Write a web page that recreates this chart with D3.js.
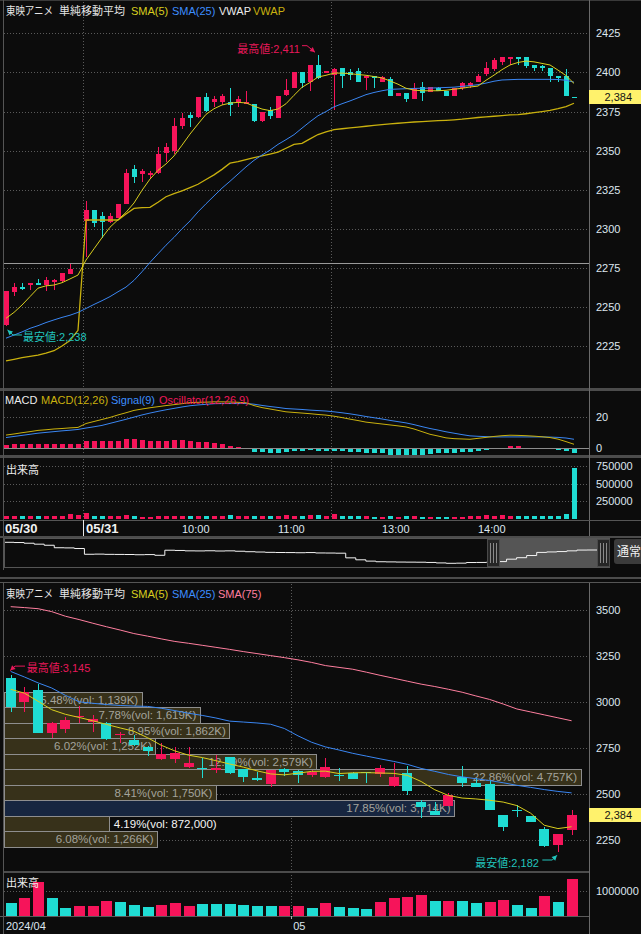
<!DOCTYPE html>
<html><head><meta charset="utf-8">
<script src="https://cdn.jsdelivr.net/npm/d3@7"></script>
<style>
html,body{margin:0;padding:0;background:#0c0c0c;}
svg{display:block;}
text{font-family:"Liberation Sans","Noto Sans CJK JP",sans-serif;}
</style></head><body>
<svg id="c" width="641" height="934"></svg>
<script>
// ---------- intraday 5-minute bars (05/30 close .. 05/31) ----------
const intradayTickLabels = ["05/30","05/31","10:00","11:00","13:00","14:00"];
const intradayTickIndex  = [0,10,22,34,47,59];
const prevClose = 2278;

const iOpen = [2238,2260,2263,2264,2265,2264,2266,2267,2271,2278, 2305,2312,2308,2304,2307,2316,2338,2335,2335,2336,
  2348,2350,2366,2373,2371,2384,2381,2381,2381,2381, 2380,2380,2369,2376,2371,2386,2390,2400,2394,2405,
  2400,2398,2403,2400,2401,2397,2398,2394,2396,2385, 2387,2383,2391,2388,2390,2388,2385,2390,2391,2394,
  2399,2402,2407,2409,2410,2410,2405,2404,2403,2398, 2398,2384];
const iHigh = [2260,2265,2265,2265,2268,2269,2268,2272,2278,2278, 2318,2312,2311,2310,2316,2338,2341,2338,2337,2352,
  2355,2371,2374,2375,2384,2387,2385,2386,2390,2385, 2388,2380,2375,2378,2385,2396,2400,2400,2405,2411,
  2401,2403,2403,2402,2403,2398,2398,2398,2397,2387, 2387,2393,2394,2391,2391,2388,2390,2394,2394,2399,
  2407,2409,2410,2410,2410,2410,2405,2405,2403,2398, 2402,2384];
const iLow = [2238,2257,2261,2261,2264,2260,2261,2265,2271,2278, 2282,2301,2294,2304,2307,2316,2329,2330,2332,2335,
  2343,2348,2364,2365,2371,2375,2378,2379,2372,2378, 2380,2368,2368,2370,2371,2385,2390,2390,2388,2396,
  2400,2376,2390,2395,2394,2389,2390,2394,2385,2385, 2381,2383,2382,2388,2388,2385,2385,2389,2390,2394,
  2398,2401,2405,2405,2405,2403,2401,2401,2394,2394, 2385,2384];
const iClose = [2260,2263,2262,2265,2264,2267,2267,2272,2274,2278, 2312,2304,2304,2308,2316,2336,2333,2337,2336,2348,
  2352,2366,2371,2371,2384,2375,2383,2385,2379,2383, 2381,2369,2375,2372,2385,2389,2400,2393,2405,2397,
  2401,2402,2398,2398,2394,2398,2397,2397,2385,2387, 2383,2390,2387,2391,2388,2385,2390,2393,2393,2398,
  2403,2408,2410,2410,2409,2404,2403,2403,2398,2397, 2385,2384];
const iVolume = [36000,36000,31000,36000,31000,36000,31000,36000,64000,50000, 78000,36000,36000,31000,36000,50000,36000,26000,26000,36000,
  36000,31000,31000,36000,36000,31000,36000,36000,50000,36000, 31000,31000,36000,36000,31000,50000,31000,36000,50000,50000,
  36000,64000,36000,36000,36000,36000,26000,26000,31000,26000, 31000,31000,26000,26000,21000,26000,26000,26000,31000,40000,
  50000,36000,50000,31000,31000,36000,36000,31000,31000,36000, 64000,725000];
const iSma5 = [2242.7,2246.5,2251.2,2256.6,2262,2263.5,2264,2265.5,2267.9,2270.4,
  2280,2287.2,2294.3,2301,2305.8,2310.5,2316.5,2324.6,2331.8,2337.4,
  2341.5,2346.6,2353.5,2360.6,2367,2373.2,2376.8,2379.2,2380.4,2380.9,
  2380.5,2378.5,2376.6,2375.6,2376.6,2380,2385.4,2390.5,2393.6,2397.1,
  2398.2,2399.6,2399.6,2399.2,2398.7,2398.2,2397.4,2396.5,2394.6,2392.5,
  2389.9,2388.7,2388.3,2388.3,2388.3,2388.6,2389.3,2389.9,2390.7,2391.3,
  2395,2398.3,2401.8,2404.8,2406.4,2407.3,2406.8,2405.8,2404.8,2401.5,
  2398,2393];
const iSma25 = [2230,2232,2234,2236.3,2238,2240,2241.7,2243.3,2244.7,2246.5,
  2249,2251.6,2254,2256.6,2259.7,2262.7,2267,2272.5,2278.5,2284,
  2289.5,2294.5,2300,2305,2310.8,2316,2321,2326,2330.4,2335,
  2339.6,2343.8,2347.2,2350.3,2354,2357,2360.2,2364.4,2368.5,2372.3,
  2375,2378,2380,2381.8,2383.8,2385.8,2387.2,2388.3,2389.2,2389.4,
  2389.6,2389.8,2389.9,2390,2390.2,2390.4,2390.6,2391.1,2391.6,2392.2,
  2393.2,2394.4,2395.2,2395.4,2395.6,2395.6,2395.6,2395.6,2395.6,2395.5,
  2395,2393.8];
const iVwap = [2215.5,2216.5,2217.5,2218.3,2219.2,2220.5,2222,2225,2228.5,2235,
  2305.6,2305.6,2305.6,2305.6,2305.6,2309.5,2313,2313.5,2313.7,2317,
  2320.5,2322.5,2324.2,2326.3,2328.5,2331.5,2334.5,2338,2342,2343,
  2344.3,2345.5,2346.7,2347.8,2349,2351.5,2354,2354.7,2357.5,2360.3,
  2362,2363.4,2364,2364.5,2365,2365.6,2366.2,2366.7,2367.1,2367.5,
  2367.9,2368.3,2368.6,2368.9,2369.2,2369.4,2369.7,2370.1,2370.7,2371.2,
  2371.6,2372,2372.4,2372.9,2373,2373.6,2374.3,2375,2375.8,2376.9,
  2378.2,2380.3];
const macdLine = [8.1,8.8,9.6,10.3,11.1,11.5,12,12.3,12.7,13,
  15.5,16.8,18.1,19.4,21,22.4,23.9,24.8,25.6,26.3,
  27,27.6,28.2,28.9,29.1,29.2,29.4,29.4,29.3,29.1,
  28.8,27,25.7,24.8,23.9,23,22.6,22.2,21.8,21.3,
  20.9,20.2,19.3,18.3,17.4,16.4,15.8,15.2,14.6,14,
  13.3,12,10.3,8.6,7.5,6.3,5.8,5.6,5.4,6,
  6.6,7.2,7.7,8,7.9,7.7,7.4,7,6.5,5.5,
  3.9,2.2];
const macdSignal = [6.5,7.2,7.9,8.6,9.3,9.8,10.3,10.8,11.2,11.7,
  12.6,13.4,14.3,15.6,16.9,18.2,19.6,21,22.2,23.3,
  24.3,25.2,26.1,26.9,27.4,27.8,28.2,28.3,28.3,28.3,
  28.3,27.9,27.1,26.4,25.8,25.1,24.8,24.5,24.1,23.8,
  23.5,23,22.4,21.7,20.9,20,19.2,18.4,17.5,16.7,
  15.9,14.8,13.5,12.3,11.3,10.2,9.3,8.4,7.6,7.3,
  7.1,6.9,6.9,6.9,6.9,6.9,6.9,6.9,6.8,6.6,
  6.2,5.4];
const macdHist = [1.7,2.5,2.5,2.5,2.2,2.2,2.2,2.2,2.2,2.2,
  4.3,4.3,4.3,4.3,4.3,5.6,5.6,5,4.3,4.3,
  4.3,5,5,4.3,3.8,3.4,2.7,2.1,1,0.4,
  -0.5,-2.6,-2.6,-3.6,-3.6,-2.6,-2.1,-2.1,-1.7,-1.9,
  -2.1,-2.1,-2.1,-2.6,-2.6,-3.6,-3.6,-3.6,-4.7,-4.7,
  -4.7,-4.7,-4.7,-4.3,-3.6,-3.6,-3.2,-2.6,-2.6,-2.1,
  -1.5,-0.4,-0.3,1,1,0,-0.4,-0.8,-1,-1.2,
  -2.1,-3.2];
// overview line in the range navigator
const navPrice = [2500,2497,2488,2476,2462,2430,2428,2420,2346,2348,
  2345,2344,2343,2340,2342,2333,2398,2395,2390,2389,
  2391,2388,2390,2385,2379,2375,2371,2369,2368,2366,
  2368,2363,2362,2360,2300,2275,2258,2250,2248,2246,
  2245,2244,2241,2235,2230,2232,2240,2241,2244,2252,
  2283,2302,2330,2370,2376,2381,2390,2400,2401,2400];

const priceTicks = [2225,2250,2275,2300,2325,2350,2375,2400,2425];
const macdTicks = [0,20];
const volTicks = [250000,500000,750000];

// ---------- daily bars (2024/04 .. 05) ----------
const dailyTickLabels = ["2024/04","05"];
const dailyTickIndex = [0,21];
const dOpen = [3130,3000,3065,2832,2850,2920,2886,2886,2820,2792, 2756,2690,2689,2648,2640,2628,2698,2633,2584,2552,
  2634,2626,2603,2594,2604,2611,2616,2606,2544,2611, 2457,2408,2435,2593,2560,2553,2385,2414,2380,2307, 2218,2303];
const dHigh = [3145,3080,3097,2890,2919,2977,2928,2890,2837,2820, 2760,2774,2756,2756,2693,2711,2700,2635,2620,2632,
  2640,2628,2630,2693,2639,2620,2620,2657,2666,2651, 2466,2457,2503,2651,2584,2575,2387,2439,2382,2318, 2282,2412];
const dLow = [2945,2946,2830,2802,2829,2886,2838,2795,2774,2762, 2705,2686,2666,2639,2584,2611,2610,2566,2570,2535,
  2597,2560,2590,2584,2571,2578,2557,2593,2535,2493, 2367,2383,2433,2539,2538,2410,2300,2375,2345,2210, 2182,2276];
const dClose = [2975,3055,2832,2886,2900,2922,2905,2798,2823,2765, 2734,2718,2720,2669,2638,2639,2611,2590,2572,2630,
  2620,2603,2620,2647,2602,2580,2614,2639,2593,2511, 2430,2385,2493,2560,2540,2412,2318,2411,2348,2213, 2280,2384];
const dVolume = [526000,729000,1377000,729000,324000,405000,405000,595000,540000,445000,
  364000,445000,513000,405000,486000,486000,486000,445000,405000,405000,
  405000,405000,324000,526000,364000,324000,283000,567000,729000,769000,
  850000,595000,595000,595000,526000,554000,636000,445000,324000,810000,
  554000,1486000];
const dVolumeSide = ["d","u","u","d","d","u","u","u","d","d", "d","u","u","u","d","d","d","d","d","d",
  "u","u","d","u","d","d","d","u","u","u", "u","d","u","d","d","u","u","d","d","u", "d","u"];
const dSma5 = [3068,3047,3003,2957,2932,2915,2897,2877,2858,2840, 2805,2764,2733,2710,2697,2680,2662,2645,2625,2608,
  2603,2612,2622,2623,2610,2614,2615,2613,2611,2600, 2567,2522,2491,2477,2472,2465,2455,2436,2395,2329, 2311,2321];
const dSma25 = [3165,3135,3103,3075,3035,3000,2992,2985,2980,2977, 2975,2965,2952,2938,2926,2912,2895,2890,2885,2878,
  2855,2815,2780,2755,2738,2720,2705,2690,2676,2660, 2638,2622,2605,2592,2582,2572,2560,2546,2535,2523, 2513,2505];
const dSma75 = [3517,3512,3506,3490,3465,3447,3427,3408,3390,3371, 3357,3342,3328,3318,3307,3296,3285,3273,3262,3251,
  3240,3228,3214,3197,3187,3177,3161,3144,3128,3112, 3096,3083,3068,3052,3032,3013,2988,2961,2945,2929, 2913,2897];
// volume by price, lowest band first
const profileShare = [6.08,4.19,17.85,8.41,22.86,12.39,6.02,8.95,7.78,5.48];
const profileVolume = [1266000,872000,3714000,1750000,4757000,2579000,1252000,1862000,1619000,1139000];

const dPriceTicks = [2250,2500,2750,3000,3250,3500];
const dVolTicks = [1000000];

// ---------- styling ----------
const RED = "#f6145a", CYAN = "#1fdcd3";
const AX = "#dde6ef", GRID = "#5a5a5a", SEP = "#4c4c4c";
const C_SMA5 = "#d9ce1e", C_SMA25 = "#3a86f2", C_VWAP = "#c9b10e", C_SMA75 = "#ff7f9f";
const fmt = d3.format(",");

const svg = d3.select("#c");
svg.append("rect").attr("width",641).attr("height",934).attr("fill","#0c0c0c");

function hl(x0,x1,y,color,dash,w){
  return svg.append("line").attr("x1",x0).attr("x2",x1).attr("y1",Math.round(y)+0.5).attr("y2",Math.round(y)+0.5)
    .attr("stroke",color).attr("stroke-width",w||1).attr("stroke-dasharray",dash||null).attr("shape-rendering","crispEdges");
}
function vl(x,y0,y1,color,dash,w){
  return svg.append("line").attr("x1",Math.round(x)+0.5).attr("x2",Math.round(x)+0.5).attr("y1",y0).attr("y2",y1)
    .attr("stroke",color).attr("stroke-width",w||1).attr("stroke-dasharray",dash||null).attr("shape-rendering","crispEdges");
}
function txt(x,y,s,fill,size,anchor,weight){
  return svg.append("text").attr("x",x).attr("y",y).text(s).attr("fill",fill||AX).attr("font-size",size||11)
    .attr("text-anchor",anchor||"start").attr("font-weight",weight||null);
}
function header(y,parts){
  parts.forEach(p=>{
    const t = txt(p[2],y,p[0],p[1],11);
    if(p[3]) t.attr("textLength",p[3]).attr("lengthAdjust","spacingAndGlyphs");
  });
}
function sideOf(o,c,prev){ if(c>o) return "u"; if(c<o) return "d"; return (prev!==undefined && c<prev) ? "d" : "u"; }
function candles(xs,ys,O,Hh,L,C,bw,clipId){
  const g = svg.append("g").attr("clip-path",`url(#${clipId})`);
  O.forEach((o,i)=>{
    const col = sideOf(o,C[i],C[i-1])==="u" ? RED : CYAN;
    const xc = Math.round(xs(i));
    g.append("line").attr("x1",xc+0.5).attr("x2",xc+0.5).attr("y1",ys(Hh[i])).attr("y2",ys(L[i]))
      .attr("stroke",col).attr("stroke-width",1).attr("shape-rendering","crispEdges");
    const yt = ys(Math.max(o,C[i])), yb = ys(Math.min(o,C[i]));
    g.append("rect").attr("x",xc-Math.floor(bw/2)).attr("width",bw)
      .attr("y",Math.round(yt)).attr("height",Math.max(1,Math.round(yb-yt)))
      .attr("fill",col).attr("shape-rendering","crispEdges");
  });
}
function series(xs,ys,vals,color,w,clipId){
  svg.append("path").datum(vals).attr("clip-path",`url(#${clipId})`)
    .attr("d",d3.line().x((d,i)=>xs(i)).y(d=>ys(d)))
    .attr("fill","none").attr("stroke",color).attr("stroke-width",w||1);
}
function arrow(pts,color){
  svg.append("path").attr("d",d3.line()(pts)).attr("fill","none").attr("stroke",color).attr("stroke-width",1);
  const a = pts[pts.length-2], b = pts[pts.length-1];
  const ang = Math.atan2(b[1]-a[1], b[0]-a[0]);
  const s = 5, w = 2.6;
  const p1 = [b[0]-s*Math.cos(ang)+w*Math.sin(ang), b[1]-s*Math.sin(ang)-w*Math.cos(ang)];
  const p2 = [b[0]-s*Math.cos(ang)-w*Math.sin(ang), b[1]-s*Math.sin(ang)+w*Math.cos(ang)];
  svg.append("path").attr("d",d3.line()([b,p1,p2,b])).attr("fill",color);
}
function priceBox(y,value){
  svg.append("rect").attr("x",589).attr("y",Math.round(y)-7).attr("width",52).attr("height",14).attr("fill","#fff26c");
  txt(632,y+4,fmt(value),"#141414",11,"end");
}
const defs = svg.append("defs");
function clip(id,x,y,w,h){ defs.append("clipPath").attr("id",id).append("rect").attr("x",x).attr("y",y).attr("width",w).attr("height",h); }

// ================= intraday chart =================
const xI = d3.scaleLinear().domain([0,71]).range([6,574]);
const yP = d3.scaleLinear().domain([2225,2425]).range([346,33.4]);
const yM = d3.scaleLinear().domain([0,20]).range([447.7,416.5]);
const yV = d3.scaleLinear().domain([0,750000]).range([518.5,466]);
clip("cTop",4,2,585,386); clip("cMacd",4,392,585,63); clip("cVol",4,459,585,61);

hl(0,641,0,"#3a3a3a");
priceTicks.forEach(v=>hl(4,589,yP(v),GRID,"1 2"));
const dayEdge = xI(10)-3, lunchEdge = xI(41)-3;
[dayEdge,lunchEdge].forEach(x=>{ vl(x,2,388,GRID,"1 2"); vl(x,392,455,GRID,"1 2"); vl(x,459,519,GRID,"1 2"); });

candles(xI,yP,iOpen,iHigh,iLow,iClose,5,"cTop");
hl(4,589,yP(prevClose),"#9a9a9a");
series(xI,yP,iVwap,C_VWAP,1.3,"cTop");
series(xI,yP,iSma25,C_SMA25,1,"cTop");
series(xI,yP,iSma5,C_SMA5,1,"cTop");

// high / low markers
{
  const hi = d3.max(iHigh), hiI = iHigh.indexOf(hi);
  const hx = xI(hiI), hy = yP(hi);
  arrow([[hx-16,hy-9.6],[hx-11,hy-9.6],[hx-3,hy-3]],"#e8185a");
  txt(hx-18,hy-2,"最高値:"+fmt(hi),"#e8185a",11,"end");
  const lo = d3.min(iLow), loI = iLow.indexOf(lo);
  const lx = xI(loI), ly = yP(lo);
  arrow([[lx+16,ly+9.3],[lx+7,ly+9.3],[lx+1.5,ly+4.3]],"#22c4bd");
  txt(lx+17,ly+15,"最安値:"+fmt(lo),"#22c4bd",11,"start");
}
header(15,[["東映アニメ","#e6e6e6",6,47],["単純移動平均","#e6e6e6",59],["SMA(5)",C_SMA5,131],["SMA(25)","#3d8eff",172],["VWAP","#ececec",219],["VWAP",C_VWAP,253]]);

// panel separators and frame
svg.append("rect").attr("x",0).attr("y",388).attr("width",641).attr("height",3).attr("fill",SEP);
svg.append("rect").attr("x",0).attr("y",455).attr("width",641).attr("height",3).attr("fill",SEP);
vl(3,0,570,"#555");
vl(589,0,537,"#6a6a6a");

// price axis
priceTicks.forEach(v=>txt(596,yP(v)+4,v));
priceBox(yP(iClose[iClose.length-1]),iClose[iClose.length-1]);

// MACD panel
hl(4,589,yM(20),GRID,"1 2");
macdHist.forEach((v,i)=>{
  const y0 = yM(0), y1 = yM(v);
  svg.append("rect").attr("x",Math.round(xI(i))-2).attr("width",5)
    .attr("y",Math.min(y0,y1)).attr("height",Math.max(0.8,Math.abs(y1-y0)))
    .attr("fill",v>=0?RED:CYAN).attr("shape-rendering","crispEdges");
});
hl(4,589,yM(0),"#8c8c8c");
series(xI,yM,macdSignal,C_SMA25,1,"cMacd");
series(xI,yM,macdLine,C_VWAP,1,"cMacd");
header(404,[["MACD","#ececec",5],["MACD(12,26)",C_VWAP,41],["Signal(9)","#3d8eff",111],["Oscillator(12,26,9)","#f0185a",159]]);
macdTicks.forEach(v=>txt(596,yM(v)+4,v));

// intraday volume
volTicks.forEach(v=>hl(4,589,yV(v),GRID,"1 2"));
iVolume.forEach((v,i)=>{
  const col = sideOf(iOpen[i],iClose[i],iClose[i-1])==="u" ? RED : CYAN;
  svg.append("rect").attr("x",Math.round(xI(i))-2).attr("width",5)
    .attr("y",yV(v)).attr("height",yV(0)-yV(v)).attr("fill",col).attr("shape-rendering","crispEdges");
});
txt(6,474,"出来高","#ececec",11);
volTicks.forEach(v=>txt(596,yV(v)+4,v));

// time axis strip
hl(0,641,520,"#555");
vl(dayEdge,520,536,"#e8e8e8");
intradayTickLabels.forEach((s,k)=>{
  const bold = s.indexOf("/")>0;
  txt(xI(intradayTickIndex[k]) - (k===0?1:0),533,s,bold?"#f2f2f2":AX,bold?13:11,"start",bold?"bold":null);
});
svg.append("rect").attr("x",0).attr("y",536).attr("width",641).attr("height",2).attr("fill",SEP);

// range navigator
const xN = d3.scaleLinear().domain([0,navPrice.length-1]).range([4,597]);
const yN = d3.scaleLinear().domain([2230,2500]).range([563.3,542.3]);
svg.append("rect").attr("x",500).attr("y",539).attr("width",97).attr("height",28).attr("fill","#555");
svg.append("path").datum(navPrice).attr("d",d3.line().x((d,i)=>xN(i)).y(d=>yN(d)).curve(d3.curveStepAfter))
  .attr("fill","none").attr("stroke","#f4f4f4").attr("stroke-width",1);
svg.append("rect").attr("x",4.5).attr("y",538.5).attr("width",605).attr("height",29).attr("fill","none").attr("stroke","#555");
[487,597].forEach(x=>{
  svg.append("rect").attr("x",x+0.5).attr("y",539.5).attr("width",12).attr("height",27).attr("fill","#262626").attr("stroke","#4a4a4a");
  [3,6,9].forEach(d=>vl(x+d,543,563,"#8a8a8a"));
});
svg.append("rect").attr("x",614).attr("y",539).attr("width",34).attr("height",25).attr("rx",3).attr("fill","#3b3b3b");
txt(617,556,"通常","#f0f0f0",12);
hl(0,641,577,SEP,null,2);

// ================= daily chart =================
const xD = d3.scaleLinear().domain([0,41]).range([10.7,571.6]);
const yD = d3.scaleLinear().domain([2250,3500]).range([839.8,609.8]);
const yDV = d3.scaleLinear().domain([0,1000000]).range([915.7,891]);
clip("cDay",4,584,585,287);

hl(0,641,582,"#555");
dPriceTicks.forEach(v=>hl(4,589,yD(v),GRID,"1 2"));
const monthEdge = (xD(dailyTickIndex[1]-1)+xD(dailyTickIndex[1]))/2;
vl(monthEdge,584,916,GRID,"1 2");

// volume-by-price bands
{
  const lo = d3.min(dClose), hi = d3.max(dClose), n = profileVolume.length, step = (hi-lo)/n;
  const curBand = Math.min(n-1, Math.floor((dClose[dClose.length-1]-lo)/step));
  const xW = d3.scaleLinear().domain([0,d3.max(profileVolume)]).range([4,581]);
  const volText = v => v>=1000000 ? fmt(Math.round(v/1000))+"K" : fmt(v);
  profileVolume.forEach((v,k)=>{
    const yTop = yD(lo+(k+1)*step), yBot = yD(lo+k*step);
    svg.append("rect").attr("x",4.5).attr("y",Math.round(yTop)+0.5).attr("width",xW(v)-4.5)
      .attr("height",Math.round(yBot)-Math.round(yTop)).attr("fill",k===curBand?"#172640":"#37311a")
      .attr("stroke","#8e8e8e").attr("stroke-width",1).attr("shape-rendering","crispEdges");
  });
  profileVolume.forEach((v,k)=>{
    const yTop = yD(lo+(k+1)*step), yBot = yD(lo+k*step), yc = (yTop+yBot)/2;
    const s = profileShare[k].toFixed(2)+"%(vol: "+volText(v)+")";
    const t = txt(xW(v)-4,yc+4.5,s,"#a3a39c",11.5,"end");
    const len = t.node().getComputedTextLength();
    if (len+14 > xW(v)-4) t.attr("x",xW(v)+4).attr("text-anchor","start").attr("fill","#f4f4f4");
  });
}
candles(xD,yD,dOpen,dHigh,dLow,dClose,10,"cDay");
series(xD,yD,dSma75,C_SMA75,1,"cDay");
series(xD,yD,dSma25,C_SMA25,1,"cDay");
series(xD,yD,dSma5,C_SMA5,1,"cDay");
{
  const hi = d3.max(dHigh), hiI = dHigh.indexOf(hi);
  const hx = xD(hiI), hy = yD(hi);
  arrow([[hx+14.3,hy-9],[hx+4.3,hy-9],[hx-0.5,hy-4.5]],"#e8185a");
  txt(hx+16,hy-2.8,"最高値:"+fmt(hi),"#e8185a",11,"start");
  const lo = d3.min(dLow), loI = dLow.indexOf(lo);
  const lx = xD(loI), ly = yD(lo);
  arrow([[lx-15.6,ly+7.7],[lx-5.6,ly+7.7],[lx-1,ly+3]],"#22c4bd");
  txt(lx-19,ly+14.4,"最安値:"+fmt(lo),"#22c4bd",11,"end");
}
header(598,[["東映アニメ","#e6e6e6",6,47],["単純移動平均","#e6e6e6",59],["SMA(5)",C_SMA5,131],["SMA(25)","#3d8eff",172],["SMA(75)",C_SMA75,218]]);

// daily volume
hl(4,589,871,SEP,null,2);
dVolTicks.forEach(v=>hl(4,589,yDV(v),GRID,"1 2"));
dVolume.forEach((v,i)=>{
  svg.append("rect").attr("x",Math.round(xD(i))-5).attr("width",11)
    .attr("y",yDV(v)).attr("height",yDV(0)-yDV(v)).attr("fill",dVolumeSide[i]==="u"?RED:CYAN).attr("shape-rendering","crispEdges");
});
txt(6,887,"出来高","#ececec",11);
hl(0,589,916,"#5a5a5a");
vl(monthEdge,916,919,"#aaa");
dailyTickLabels.forEach((s,k)=>txt(k===0?6:monthEdge+2,930,s,AX,11));

vl(3,583,934,"#555");
vl(589,583,934,"#6a6a6a");
dPriceTicks.forEach(v=>txt(596,yD(v)+4,v));
dVolTicks.forEach(v=>txt(596,yDV(v)+4,v));
priceBox(yD(dClose[dClose.length-1]),dClose[dClose.length-1]);
</script></body></html>
